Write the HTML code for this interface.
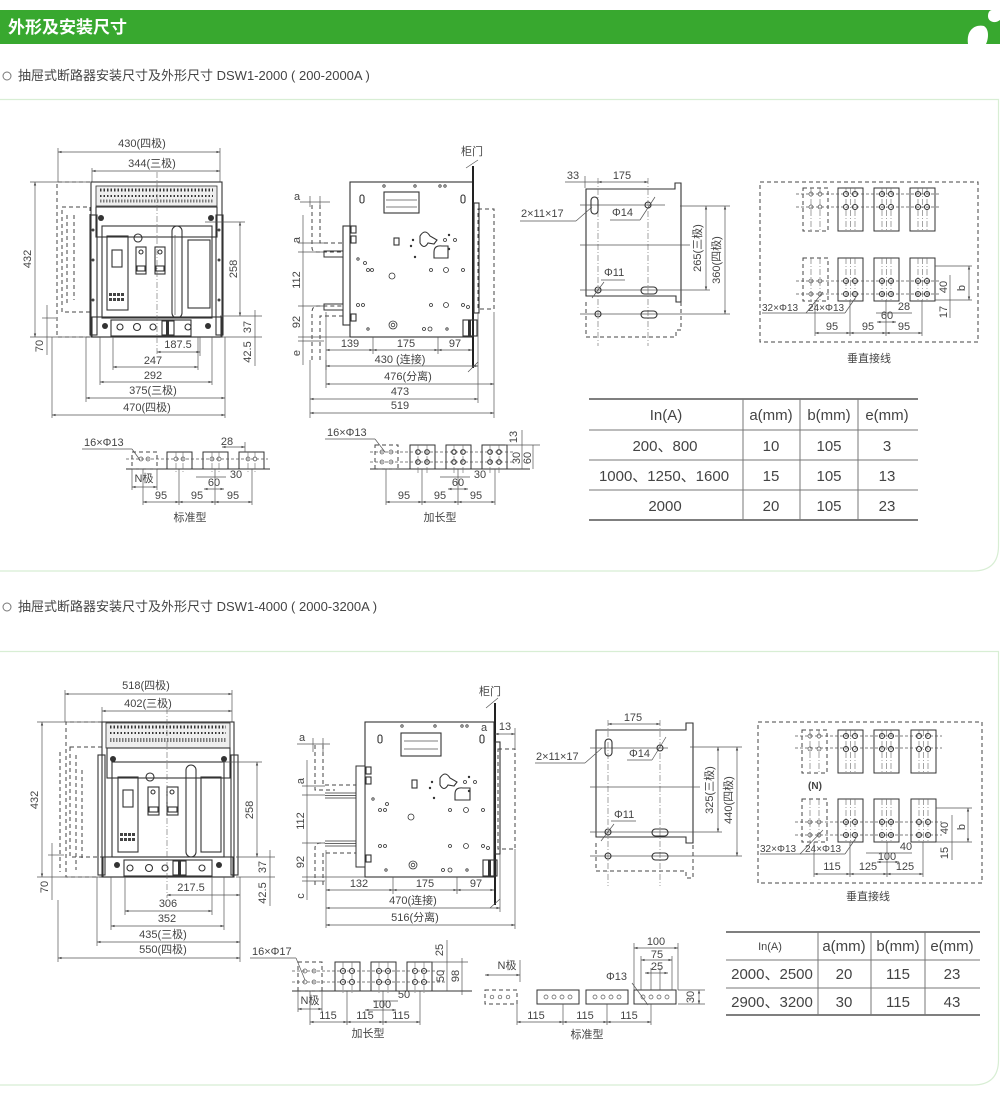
<!DOCTYPE html>
<html><head><meta charset="utf-8"><style>
html,body{margin:0;padding:0;background:#fff;}
body{width:1000px;height:1105px;position:relative;overflow:hidden;font-family:"Liberation Sans","Noto Sans CJK SC",sans-serif;}
svg{position:absolute;left:0;top:0;}
.t{font-family:"Liberation Sans","Noto Sans CJK SC",sans-serif;font-size:11px;fill:#444;text-anchor:middle;}
.tl{font-family:"Liberation Sans","Noto Sans CJK SC",sans-serif;font-size:11px;fill:#444;}
.d{stroke:#555;stroke-width:.7;fill:none;}
.dm{stroke:#555;stroke-width:.7;fill:none;marker-start:url(#ar);marker-end:url(#ar);}
.o{stroke:#333;stroke-width:1.1;fill:none;}
.ds{stroke:#444;stroke-width:1;fill:none;stroke-dasharray:4 3;}
.c{stroke:#666;stroke-width:.6;fill:none;stroke-dasharray:6 2 1 2;}
.tb{font-family:"Liberation Sans","Noto Sans CJK SC",sans-serif;font-size:15px;fill:#444;text-anchor:middle;}
</style></head><body>
<svg width="1000" height="1105" viewBox="0 0 1000 1105" xmlns="http://www.w3.org/2000/svg">
<defs>
<marker id="ar" viewBox="0 0 6 6" refX="6" refY="3" markerWidth="5" markerHeight="5" orient="auto-start-reverse"><path d="M0,1 L6,3 L0,5z" fill="#444"/></marker>
<symbol id="bA" overflow="visible"><rect x="0" y="0" width="25" height="43" fill="#fff" stroke="#333" stroke-width="1"/><line x1="8" y1="0" x2="8" y2="43" class="c"/><line x1="17" y1="0" x2="17" y2="43" class="c"/><line x1="12.5" y1="0" x2="12.5" y2="43" class="c"/><circle cx="8" cy="6" r="2.5" class="o"/><circle cx="17" cy="6" r="2.5" class="o"/><circle cx="8" cy="19" r="2.5" class="o"/><circle cx="17" cy="19" r="2.5" class="o"/></symbol>
<symbol id="bB" overflow="visible"><rect x="0" y="0" width="25" height="43" fill="#fff" stroke="#333" stroke-width="1"/><line x1="8" y1="0" x2="8" y2="43" class="c"/><line x1="17" y1="0" x2="17" y2="43" class="c"/><line x1="12.5" y1="0" x2="12.5" y2="43" class="c"/><circle cx="8" cy="23" r="2.5" class="o"/><circle cx="17" cy="23" r="2.5" class="o"/><circle cx="8" cy="36" r="2.5" class="o"/><circle cx="17" cy="36" r="2.5" class="o"/></symbol>
<symbol id="bAd" overflow="visible"><rect x="0" y="0" width="25" height="43" class="ds"/><line x1="8" y1="0" x2="8" y2="43" class="c"/><line x1="17" y1="0" x2="17" y2="43" class="c"/><circle cx="8" cy="6" r="2" class="d"/><circle cx="17" cy="6" r="2" class="d"/><circle cx="8" cy="19" r="2" class="d"/><circle cx="17" cy="19" r="2" class="d"/></symbol>
<symbol id="bBd" overflow="visible"><rect x="0" y="0" width="25" height="43" class="ds"/><line x1="8" y1="0" x2="8" y2="43" class="c"/><line x1="17" y1="0" x2="17" y2="43" class="c"/><circle cx="8" cy="23" r="2" class="d"/><circle cx="17" cy="23" r="2" class="d"/><circle cx="8" cy="36" r="2" class="d"/><circle cx="17" cy="36" r="2" class="d"/></symbol>
<symbol id="s1" overflow="visible"><rect x="0" y="0" width="25" height="17" fill="#fff" stroke="#333"/><circle cx="9" cy="7" r="2" class="d"/><circle cx="16" cy="7" r="2" class="d"/><line x1="9" y1="0" x2="9" y2="20" class="c"/><line x1="16" y1="0" x2="16" y2="20" class="c"/></symbol>
<symbol id="s2" overflow="visible"><rect x="0" y="0" width="25" height="24" fill="#fff" stroke="#333"/><circle cx="8" cy="7" r="2.3" class="o"/><circle cx="17" cy="7" r="2.3" class="o"/><circle cx="8" cy="17" r="2.3" class="o"/><circle cx="17" cy="17" r="2.3" class="o"/><line x1="8" y1="0" x2="8" y2="28" class="c"/><line x1="17" y1="0" x2="17" y2="28" class="c"/></symbol>
<symbol id="s3" overflow="visible"><rect x="0" y="0" width="25" height="29" fill="#fff" stroke="#333"/><circle cx="8" cy="9" r="2.5" class="o"/><circle cx="17" cy="9" r="2.5" class="o"/><circle cx="8" cy="20" r="2.5" class="o"/><circle cx="17" cy="20" r="2.5" class="o"/><line x1="8" y1="0" x2="8" y2="32" class="c"/><line x1="17" y1="0" x2="17" y2="32" class="c"/></symbol>
<symbol id="s4" overflow="visible"><rect x="0" y="0" width="42" height="14" fill="#fff" stroke="#333"/><circle cx="9" cy="7" r="2" class="d"/><circle cx="17" cy="7" r="2" class="d"/><circle cx="25" cy="7" r="2" class="d"/><circle cx="33" cy="7" r="2" class="d"/></symbol>
</defs>

<!-- header -->
<rect x="0" y="10" width="1000" height="34" fill="#38a82f"/>
<path d="M968 44 C966 30 975 24 984 26 C990 30 988 40 986 44 Z" fill="#fff"/>
<path d="M1000 10 L1000 20 C995 24 988 22 988 16 C988 12 990 10 992 10 Z" fill="#fff"/>
<text x="8" y="33" style="font-family:'Liberation Sans','Noto Sans CJK SC',sans-serif;font-size:17px;font-weight:bold;fill:#fff">外形及安装尺寸</text>

<!-- section labels -->
<circle cx="7" cy="76" r="4" fill="none" stroke="#777"/>
<text x="18" y="80" style="font-family:'Liberation Sans','Noto Sans CJK SC',sans-serif;font-size:13px;fill:#444">抽屉式断路器安装尺寸及外形尺寸 DSW1-2000 ( 200-2000A )</text>
<circle cx="7" cy="607" r="4" fill="none" stroke="#777"/>
<text x="18" y="611" style="font-family:'Liberation Sans','Noto Sans CJK SC',sans-serif;font-size:13px;fill:#444">抽屉式断路器安装尺寸及外形尺寸 DSW1-4000 ( 2000-3200A )</text>

<!-- panels -->
<path d="M0 99.5 H998.5 V546 Q998.5 571 973 571 H0" fill="none" stroke="#d8eed4" stroke-width="1.2"/>
<path d="M0 651.5 H998.5 V1060 Q998.5 1085 973 1085 H0" fill="none" stroke="#d8eed4" stroke-width="1.2"/>

<!-- ================= SECTION 1 FRONT ================= -->
<g>
<text class="t" x="142" y="147">430(四极)</text>
<line class="dm" x1="58" y1="152" x2="220" y2="152"/>
<text class="t" x="152" y="167">344(三极)</text>
<line class="dm" x1="92" y1="171" x2="220" y2="171"/>
<line class="d" x1="58" y1="148" x2="58" y2="182"/><line class="d" x1="220" y1="148" x2="220" y2="182"/><line class="d" x1="92" y1="168" x2="92" y2="182"/>
<path class="ds" d="M90 182 H57 V337 H90"/>
<rect class="ds" x="62" y="207" width="28" height="105"/>
<path class="ds" d="M67 215 V305 M74 215 V300"/>
<rect class="o" x="91" y="182" width="131" height="155"/>
<rect x="96" y="186" width="121" height="20" fill="#eee" stroke="#333" stroke-width=".8"/>
<line x1="100" y1="190" x2="213" y2="190" stroke="#333" stroke-width="3" stroke-dasharray="1.5 2"/>
<line x1="100" y1="196" x2="213" y2="196" stroke="#333" stroke-width="2" stroke-dasharray="1.5 2"/>
<line x1="100" y1="201" x2="213" y2="201" stroke="#777" stroke-width="3" stroke-dasharray="1.5 1.5"/>
<rect class="o" x="96" y="207" width="121" height="30"/>
<circle cx="101" cy="218" r="3" fill="#333"/><circle cx="211" cy="218" r="3" fill="#333"/>
<rect class="o" x="102" y="226" width="110" height="92"/>
<rect class="o" x="107" y="236" width="21" height="74"/>
<rect class="o" x="112" y="250" width="10" height="17"/>
<g fill="#444"><rect x="109" y="293" width="3" height="3"/><rect x="113" y="293" width="3" height="3"/><rect x="117" y="293" width="3" height="3"/><rect x="121" y="293" width="3" height="3"/><rect x="109" y="298" width="3" height="3"/><rect x="113" y="298" width="3" height="3"/><rect x="117" y="298" width="3" height="3"/><rect x="121" y="298" width="3" height="3"/></g>
<circle cx="138" cy="238" r="4" class="o"/>
<rect class="o" x="136" y="247" width="10" height="27"/><circle cx="141" cy="252" r="2" class="o"/><rect class="o" x="137" y="266" width="8" height="5"/>
<rect class="o" x="155" y="247" width="10" height="27"/><circle cx="160" cy="252" r="2" class="o"/><rect class="o" x="156" y="266" width="8" height="5"/>
<rect class="o" x="172" y="226" width="10" height="92" rx="5"/><line class="d" x1="175" y1="235" x2="175" y2="315"/>
<rect class="o" x="188" y="240" width="22" height="68"/>
<rect class="o" x="92" y="317" width="129" height="20"/>
<rect class="o" x="111" y="320" width="80" height="16"/>
<circle cx="120" cy="327" r="3" class="o"/><circle cx="137" cy="327" r="3.5" class="o"/><circle cx="153" cy="327" r="3" class="o"/><rect class="o" x="162" y="321" width="12" height="14"/><rect x="166" y="320" width="3" height="17" fill="#333"/><circle cx="188" cy="327" r="3" class="o"/>
<circle cx="105" cy="326" r="3" fill="#333"/><circle cx="208" cy="326" r="3" fill="#333"/>
<rect class="o" x="90" y="215" width="7" height="120"/><rect class="o" x="216" y="215" width="7" height="120"/>
<g fill="#444"><circle cx="93" cy="230" r="1.5"/><circle cx="93" cy="260" r="1.5"/><circle cx="93" cy="300" r="1.5"/><circle cx="219" cy="230" r="1.5"/><circle cx="219" cy="260" r="1.5"/><circle cx="219" cy="300" r="1.5"/></g>
<line class="c" x1="157" y1="172" x2="157" y2="356"/>
<!-- left dims -->
<line class="d" x1="30" y1="182" x2="90" y2="182"/>
<line class="dm" x1="35" y1="182" x2="35" y2="337"/>
<text class="t" transform="translate(31,259) rotate(-90)">432</text>
<line class="d" x1="30" y1="337" x2="90" y2="337"/>
<line class="d" x1="42" y1="318" x2="56" y2="318"/>
<line class="d" x1="47" y1="305" x2="47" y2="355"/>
<text class="t" transform="translate(43,346) rotate(-90)">70</text>
<!-- right dims -->
<line class="d" x1="205" y1="222" x2="245" y2="222"/>
<line class="dm" x1="240" y1="222" x2="240" y2="316"/>
<text class="t" transform="translate(237,269) rotate(-90)">258</text>
<line class="d" x1="220" y1="316" x2="262" y2="316"/><line class="d" x1="220" y1="337" x2="262" y2="337"/>
<line class="d" x1="255" y1="310" x2="255" y2="366"/>
<text class="t" transform="translate(251,327) rotate(-90)">37</text>
<text class="t" transform="translate(251,352) rotate(-90)">42.5</text>
<!-- bottom dims -->
<line class="d" x1="200" y1="337" x2="200" y2="356"/>
<text class="t" x="178" y="348">187.5</text><line class="dm" x1="157" y1="352" x2="200" y2="352"/>
<line class="d" x1="113" y1="337" x2="113" y2="370"/><line class="d" x1="198" y1="337" x2="198" y2="370"/>
<text class="t" x="153" y="364">247</text><line class="dm" x1="113" y1="367" x2="198" y2="367"/>
<line class="d" x1="100" y1="337" x2="100" y2="385"/><line class="d" x1="212" y1="337" x2="212" y2="385"/>
<text class="t" x="153" y="379">292</text><line class="dm" x1="100" y1="382" x2="212" y2="382"/>
<line class="d" x1="86" y1="337" x2="86" y2="402"/><line class="d" x1="225" y1="337" x2="225" y2="418"/>
<text class="t" x="153" y="394">375(三极)</text><line class="dm" x1="86" y1="398" x2="225" y2="398"/>
<line class="d" x1="52" y1="337" x2="52" y2="418"/>
<text class="t" x="147" y="411">470(四极)</text><line class="dm" x1="52" y1="415" x2="225" y2="415"/>
</g>

<!-- ================= SECTION 1 SIDE ================= -->
<g>
<text class="t" x="472" y="155">柜门</text>
<line class="d" x1="466" y1="168" x2="478" y2="160"/>
<rect class="o" x="350" y="182" width="123" height="155"/>
<line x1="473" y1="166" x2="473" y2="368" stroke="#222" stroke-width="2"/>
<line class="d" x1="468" y1="372" x2="478" y2="362"/>
<rect class="ds" x="478" y="209" width="16" height="100"/>
<rect class="o" x="474" y="203" width="5" height="110"/>
<rect class="o" x="343" y="226" width="7" height="99"/>
<rect class="o" x="351" y="226" width="5" height="7"/><rect class="o" x="351" y="236" width="5" height="7"/><rect class="o" x="351" y="314" width="5" height="7"/>
<rect class="o" x="384" y="192" width="35" height="21"/><line class="d" x1="386" y1="200" x2="417" y2="200"/><line class="d" x1="386" y1="207" x2="417" y2="207"/>
<rect class="o" x="360" y="195" width="4" height="8" rx="2"/><rect class="o" x="461" y="195" width="4" height="8" rx="2"/>
<path class="o" d="M420 236 Q425 228 430 236 L437 240 L434 244 L428 243 Q424 250 420 243 Z"/>
<path class="o" d="M434 258 V252 Q434 245 442 246 H448 V258 Z"/>
<rect class="o" x="394" y="238" width="5" height="7"/>
<g fill="none" stroke="#333" stroke-width=".8"><circle cx="384" cy="186" r="1.2"/><circle cx="415" cy="186" r="1.2"/><circle cx="440" cy="186" r="1.2"/><circle cx="445" cy="186" r="1.2"/><circle cx="358" cy="259" r="1.2"/><circle cx="368" cy="270" r="1.5"/><circle cx="372" cy="270" r="1.5"/><circle cx="365" cy="263" r="1.5"/><circle cx="392" cy="276" r="3"/><circle cx="431" cy="270" r="1.5"/><circle cx="446" cy="270" r="2.5"/><circle cx="463" cy="270" r="1.5"/><circle cx="358" cy="305" r="1.5"/><circle cx="363" cy="305" r="1.5"/><circle cx="431" cy="305" r="1.5"/><circle cx="446" cy="305" r="2.5"/><circle cx="463" cy="305" r="1.5"/><circle cx="468" cy="307" r="1.5"/><circle cx="393" cy="325" r="4"/><circle cx="393" cy="325" r="1.8"/><circle cx="368" cy="329" r="1.2"/><circle cx="424" cy="329" r="1.5"/><circle cx="430" cy="329" r="2"/><circle cx="447" cy="329" r="1.2"/><circle cx="445" cy="240" r="1.5"/><circle cx="455" cy="240" r="1.5"/></g>
<g fill="#333"><circle cx="413" cy="240" r="1.2"/><circle cx="411" cy="246" r="1.2"/><circle cx="449" cy="235" r="1.2"/><circle cx="449" cy="249" r="1.2"/><circle cx="415" cy="257" r="1.2"/></g>
<rect class="o" x="463" y="320" width="14" height="16"/><rect x="468" y="320" width="3" height="16" fill="#333"/>
<rect x="324" y="251" width="19" height="6" fill="#fff" stroke="#333"/>
<rect x="324" y="304" width="19" height="6" fill="#fff" stroke="#333"/>
<path class="ds" d="M312 205 V248 Q312 252 318 252 H343"/><path class="ds" d="M320 205 V243 H343"/>
<path class="ds" d="M312 360 V312 Q312 306 318 306 H343"/><path class="ds" d="M320 360 V316 H343"/>
<text class="t" x="297" y="200">a</text>
<line class="d" x1="300" y1="202" x2="330" y2="202"/><line class="d" x1="310" y1="196" x2="310" y2="207"/><line class="d" x1="320" y1="196" x2="320" y2="207"/>
<line class="d" x1="303" y1="215" x2="303" y2="365"/>
<line class="d" x1="298" y1="243" x2="324" y2="243"/><line class="d" x1="298" y1="252" x2="324" y2="252"/><line class="d" x1="298" y1="306" x2="324" y2="306"/><line class="d" x1="298" y1="337" x2="350" y2="337"/><line class="d" x1="298" y1="341" x2="324" y2="341"/>
<text class="t" transform="translate(300,240) rotate(-90)">a</text>
<text class="t" transform="translate(300,280) rotate(-90)">112</text>
<text class="t" transform="translate(300,322) rotate(-90)">92</text>
<text class="t" transform="translate(300,353) rotate(-90)">e</text>
<line class="d" x1="326" y1="312" x2="326" y2="370"/><line class="d" x1="373" y1="337" x2="373" y2="354"/><line class="d" x1="438" y1="337" x2="438" y2="354"/>
<text class="t" x="350" y="347">139</text><line class="dm" x1="326" y1="350" x2="373" y2="350"/>
<text class="t" x="406" y="347">175</text><line class="dm" x1="373" y1="350" x2="438" y2="350"/>
<text class="t" x="455" y="347">97</text><line class="dm" x1="438" y1="350" x2="472" y2="350"/>
<text class="t" x="400" y="363">430 (连接)</text><line class="dm" x1="326" y1="366" x2="478" y2="366"/>
<line class="d" x1="478" y1="312" x2="478" y2="403"/><line class="d" x1="494" y1="312" x2="494" y2="418"/><line class="d" x1="326" y1="360" x2="326" y2="388"/><line class="d" x1="310" y1="360" x2="310" y2="418"/>
<text class="t" x="408" y="380">476(分离)</text><line class="dm" x1="326" y1="384" x2="494" y2="384"/>
<text class="t" x="400" y="395">473</text><line class="dm" x1="310" y1="399" x2="478" y2="399"/>
<text class="t" x="400" y="409">519</text><line class="dm" x1="310" y1="413" x2="494" y2="413"/>
</g>

<!-- ================= SECTION 1 bottom parts ================= -->
<g>
<text class="tl" x="84" y="446">16×Φ13</text>
<line class="d" x1="82" y1="449" x2="132" y2="449"/><line class="d" x1="132" y1="449" x2="140" y2="460"/>
<line class="o" x1="126" y1="469" x2="270" y2="469"/>
<rect class="ds" x="132" y="452" width="25" height="17"/>
<circle cx="141" cy="459" r="2" class="d"/><circle cx="148" cy="459" r="2" class="d"/>
<use href="#s1" x="167" y="452"/><use href="#s1" x="203" y="452"/><use href="#s1" x="239" y="452"/>
<line class="d" x1="126" y1="459" x2="268" y2="459" stroke-dasharray="3 2"/>
<text class="t" x="227" y="445">28</text><line class="dm" x1="222" y1="447" x2="245" y2="447"/><line class="d" x1="245" y1="442" x2="245" y2="452"/>
<text class="t" x="144" y="482">N极</text><line class="d" x1="132" y1="469" x2="132" y2="490"/><line class="d" x1="157" y1="469" x2="157" y2="490"/><line class="dm" x1="132" y1="487" x2="157" y2="487"/>
<text class="t" x="236" y="478">30</text><line class="d" x1="196" y1="477" x2="226" y2="477"/>
<text class="t" x="214" y="486">60</text><line class="dm" x1="204" y1="489" x2="224" y2="489"/>
<line class="d" x1="143" y1="469" x2="143" y2="505"/><line class="d" x1="179" y1="469" x2="179" y2="505"/><line class="d" x1="215" y1="469" x2="215" y2="505"/><line class="d" x1="252" y1="469" x2="252" y2="505"/>
<text class="t" x="161" y="499">95</text><line class="dm" x1="143" y1="502" x2="179" y2="502"/>
<text class="t" x="197" y="499">95</text><line class="dm" x1="179" y1="502" x2="215" y2="502"/>
<text class="t" x="233" y="499">95</text><line class="dm" x1="215" y1="502" x2="252" y2="502"/>
<text class="t" x="190" y="521">标准型</text>

<text class="tl" x="327" y="436">16×Φ13</text>
<line class="d" x1="325" y1="439" x2="375" y2="439"/><line class="d" x1="375" y1="439" x2="385" y2="452"/>
<line class="o" x1="370" y1="469" x2="530" y2="469"/>
<rect class="ds" x="375" y="445" width="23" height="24"/>
<circle cx="382" cy="452" r="2" class="d"/><circle cx="391" cy="452" r="2" class="d"/><circle cx="382" cy="462" r="2" class="d"/><circle cx="391" cy="462" r="2" class="d"/>
<use href="#s2" x="410" y="445"/><use href="#s2" x="446" y="445"/><use href="#s2" x="482" y="445"/>
<line class="d" x1="370" y1="452" x2="515" y2="452" stroke-dasharray="3 2"/><line class="d" x1="370" y1="462" x2="515" y2="462" stroke-dasharray="3 2"/>
<line class="d" x1="505" y1="445" x2="540" y2="445"/>
<line class="d" x1="522" y1="430" x2="522" y2="469"/><line class="d" x1="533" y1="445" x2="533" y2="469"/>
<text class="t" transform="translate(517,437) rotate(-90)">13</text>
<text class="t" transform="translate(520,458) rotate(-90)">30</text>
<text class="t" transform="translate(531,458) rotate(-90)">60</text>
<text class="t" x="480" y="478">30</text><line class="d" x1="440" y1="477" x2="470" y2="477"/>
<text class="t" x="458" y="486">60</text><line class="dm" x1="448" y1="489" x2="468" y2="489"/>
<line class="d" x1="386" y1="469" x2="386" y2="505"/><line class="d" x1="422" y1="469" x2="422" y2="505"/><line class="d" x1="458" y1="469" x2="458" y2="505"/><line class="d" x1="495" y1="469" x2="495" y2="505"/>
<text class="t" x="404" y="499">95</text><line class="dm" x1="386" y1="502" x2="422" y2="502"/>
<text class="t" x="440" y="499">95</text><line class="dm" x1="422" y1="502" x2="458" y2="502"/>
<text class="t" x="476" y="499">95</text><line class="dm" x1="458" y1="502" x2="495" y2="502"/>
<text class="t" x="440" y="521">加长型</text>
</g>

<!-- ================= SECTION 1 plate ================= -->
<g>
<path class="o" d="M586 189 H675 V183 H681 V302 H676 V296 H586 Z"/>
<path class="ds" d="M586 302 V337 H676 V330 H681 V302"/>
<line class="c" x1="598" y1="178" x2="598" y2="346"/><line class="c" x1="648" y1="178" x2="648" y2="346"/>
<line class="d" x1="580" y1="205" x2="665" y2="205"/><line class="d" x1="580" y1="245" x2="690" y2="245"/><line class="d" x1="580" y1="290" x2="710" y2="290"/><line class="d" x1="580" y1="314" x2="730" y2="314"/>
<line class="d" x1="680" y1="206" x2="730" y2="206"/>
<rect class="o" x="591" y="197" width="7" height="17" rx="3.5"/>
<circle cx="648" cy="205" r="3" class="o"/>
<circle cx="598" cy="290" r="3" class="o"/>
<rect class="o" x="641" y="287" width="16" height="7" rx="3.5"/>
<circle cx="598" cy="314" r="3" class="o"/>
<rect class="o" x="641" y="311" width="16" height="7" rx="3.5"/>
<text class="t" x="573" y="179">33</text><text class="t" x="622" y="179">175</text>
<line class="d" x1="565" y1="182" x2="598" y2="182"/><line class="dm" x1="598" y1="182" x2="648" y2="182"/><line class="d" x1="585" y1="176" x2="585" y2="188"/>
<text class="tl" x="521" y="217">2×11×17</text><line class="d" x1="520" y1="221" x2="576" y2="221"/><line class="d" x1="576" y1="221" x2="592" y2="207"/>
<text class="tl" x="612" y="216">Φ14</text><line class="d" x1="610" y1="220" x2="640" y2="220"/><line class="d" x1="640" y1="220" x2="655" y2="197"/>
<text class="tl" x="604" y="276">Φ11</text><line class="d" x1="601" y1="280" x2="625" y2="280"/><line class="d" x1="592" y1="298" x2="604" y2="282"/>
<line class="dm" x1="706" y1="206" x2="706" y2="290"/>
<text class="t" transform="translate(701,248) rotate(-90)">265(三极)</text>
<line class="dm" x1="725" y1="206" x2="725" y2="314"/>
<text class="t" transform="translate(720,260) rotate(-90)">360(四极)</text>
</g>

<!-- ================= SECTION 1 vertical wiring ================= -->
<g>
<rect class="ds" x="760" y="182" width="218" height="160"/>
<use href="#bAd" x="803" y="188"/><use href="#bA" x="838" y="188"/><use href="#bA" x="874" y="188"/><use href="#bA" x="910" y="188"/>
<line class="d" x1="796" y1="194" x2="940" y2="194" stroke-dasharray="3 2"/><line class="d" x1="796" y1="207" x2="940" y2="207" stroke-dasharray="3 2"/>
<use href="#bBd" x="803" y="258"/><use href="#bB" x="838" y="258"/><use href="#bB" x="874" y="258"/><use href="#bB" x="910" y="258"/>
<line class="d" x1="796" y1="281" x2="940" y2="281" stroke-dasharray="3 2"/><line class="d" x1="796" y1="294" x2="940" y2="294" stroke-dasharray="3 2"/>
<line class="d" x1="935" y1="266" x2="972" y2="266"/><line class="d" x1="935" y1="300" x2="972" y2="300"/>
<line class="dm" x1="969" y1="266" x2="969" y2="300"/><text class="t" transform="translate(965,288) rotate(-90)">b</text>
<line class="d" x1="950" y1="275" x2="950" y2="318"/><text class="t" transform="translate(947,287) rotate(-90)">40</text>
<text class="t" transform="translate(947,312) rotate(-90)">17</text>
<text class="tl" x="762" y="311" style="font-size:10px">32×Φ13</text><text class="tl" x="808" y="311" style="font-size:10px">24×Φ13</text>
<line class="d" x1="762" y1="313" x2="845" y2="313"/><line class="d" x1="806" y1="313" x2="823" y2="292"/><line class="d" x1="845" y1="313" x2="858" y2="294"/>
<text class="t" x="904" y="310">28</text><line class="d" x1="876" y1="313" x2="912" y2="313"/>
<text class="t" x="887" y="319">60</text><line class="dm" x1="877" y1="322" x2="896" y2="322"/>
<line class="d" x1="815" y1="300" x2="815" y2="336"/><line class="d" x1="850" y1="300" x2="850" y2="336"/><line class="d" x1="886" y1="300" x2="886" y2="336"/><line class="d" x1="922" y1="300" x2="922" y2="336"/>
<text class="t" x="832" y="330">95</text><line class="dm" x1="815" y1="333" x2="850" y2="333"/>
<text class="t" x="868" y="330">95</text><line class="dm" x1="850" y1="333" x2="886" y2="333"/>
<text class="t" x="904" y="330">95</text><line class="dm" x1="886" y1="333" x2="922" y2="333"/>
<text class="t" x="869" y="362">垂直接线</text>
</g>

<!-- ================= TABLE 1 ================= -->
<g>
<line x1="589" y1="399" x2="918" y2="399" stroke="#555" stroke-width="1.5"/>
<line x1="589" y1="430" x2="918" y2="430" stroke="#777" stroke-width="1"/>
<line x1="589" y1="460" x2="918" y2="460" stroke="#777" stroke-width="1"/>
<line x1="589" y1="490" x2="918" y2="490" stroke="#777" stroke-width="1"/>
<line x1="589" y1="520" x2="918" y2="520" stroke="#555" stroke-width="1.5"/>
<line x1="743" y1="399" x2="743" y2="520" stroke="#777"/><line x1="800" y1="399" x2="800" y2="520" stroke="#777"/><line x1="858" y1="399" x2="858" y2="520" stroke="#777"/>
<text class="tb" x="666" y="420">In(A)</text><text class="tb" x="771" y="420">a(mm)</text><text class="tb" x="829" y="420">b(mm)</text><text class="tb" x="887" y="420">e(mm)</text>
<text class="tb" x="665" y="451">200、800</text><text class="tb" x="771" y="451">10</text><text class="tb" x="829" y="451">105</text><text class="tb" x="887" y="451">3</text>
<text class="tb" x="664" y="481">1000、1250、1600</text><text class="tb" x="771" y="481">15</text><text class="tb" x="829" y="481">105</text><text class="tb" x="887" y="481">13</text>
<text class="tb" x="665" y="511">2000</text><text class="tb" x="771" y="511">20</text><text class="tb" x="829" y="511">105</text><text class="tb" x="887" y="511">23</text>
</g>

<!-- ================= SECTION 2 FRONT ================= -->
<g>
<text class="t" x="146" y="689">518(四极)</text>
<line class="dm" x1="65" y1="694" x2="232" y2="694"/>
<text class="t" x="148" y="707">402(三极)</text>
<line class="dm" x1="102" y1="711" x2="232" y2="711"/>
<line class="d" x1="65" y1="690" x2="65" y2="722"/><line class="d" x1="232" y1="690" x2="232" y2="722"/><line class="d" x1="102" y1="707" x2="102" y2="722"/>
<path class="ds" d="M102 722 H66 V877 H102"/>
<rect class="ds" x="70" y="747" width="32" height="110"/>
<path class="ds" d="M60 752 V872 M76 755 V870 M82 770 V860"/>
<rect class="o" x="102" y="722" width="132" height="155"/>
<rect x="106" y="723" width="124" height="25" fill="#eee" stroke="#333" stroke-width=".8"/>
<line x1="110" y1="727" x2="226" y2="727" stroke="#333" stroke-width="3" stroke-dasharray="1.5 2"/>
<line x1="110" y1="733" x2="226" y2="733" stroke="#333" stroke-width="2" stroke-dasharray="1.5 2"/>
<line x1="110" y1="740" x2="226" y2="740" stroke="#777" stroke-width="4" stroke-dasharray="1.5 1.5"/>
<rect class="o" x="107" y="748" width="123" height="30"/>
<circle cx="113" cy="759" r="3" fill="#333"/><circle cx="224" cy="759" r="3" fill="#333"/>
<rect class="o" x="112" y="762" width="112" height="95"/>
<rect class="o" x="118" y="777" width="20" height="75"/>
<rect class="o" x="123" y="790" width="10" height="17"/>
<g fill="#444"><rect x="120" y="833" width="3" height="3"/><rect x="124" y="833" width="3" height="3"/><rect x="128" y="833" width="3" height="3"/><rect x="132" y="833" width="3" height="3"/><rect x="120" y="838" width="3" height="3"/><rect x="124" y="838" width="3" height="3"/><rect x="128" y="838" width="3" height="3"/><rect x="132" y="838" width="3" height="3"/></g>
<circle cx="150" cy="777" r="4" class="o"/>
<rect class="o" x="148" y="787" width="11" height="28"/><circle cx="153" cy="792" r="2" class="o"/><rect class="o" x="149" y="807" width="9" height="5"/>
<rect class="o" x="167" y="787" width="11" height="28"/><circle cx="172" cy="792" r="2" class="o"/><rect class="o" x="168" y="807" width="9" height="5"/>
<rect class="o" x="186" y="765" width="10" height="92" rx="5"/>
<rect class="o" x="201" y="777" width="20" height="75"/>
<rect class="o" x="103" y="857" width="130" height="20"/>
<rect class="o" x="124" y="860" width="88" height="16"/>
<circle cx="130" cy="868" r="3" class="o"/><circle cx="149" cy="868" r="3.5" class="o"/><circle cx="165" cy="868" r="3" class="o"/><rect class="o" x="173" y="861" width="13" height="14"/><rect x="178" y="860" width="3" height="17" fill="#333"/><circle cx="202" cy="868" r="3" class="o"/>
<circle cx="117" cy="865" r="3" fill="#333"/><circle cx="219" cy="865" r="3" fill="#333"/>
<rect class="o" x="98" y="755" width="7" height="120"/><rect class="o" x="231" y="755" width="7" height="120"/>
<line class="c" x1="167" y1="708" x2="167" y2="898"/>
<line class="d" x1="37" y1="722" x2="100" y2="722"/>
<line class="dm" x1="42" y1="722" x2="42" y2="877"/>
<text class="t" transform="translate(38,800) rotate(-90)">432</text>
<line class="d" x1="37" y1="877" x2="100" y2="877"/>
<line class="d" x1="48" y1="855" x2="64" y2="855"/>
<line class="d" x1="52" y1="843" x2="52" y2="900"/>
<text class="t" transform="translate(48,887) rotate(-90)">70</text>
<line class="d" x1="222" y1="762" x2="262" y2="762"/>
<line class="dm" x1="257" y1="762" x2="257" y2="857"/>
<text class="t" transform="translate(253,810) rotate(-90)">258</text>
<line class="d" x1="236" y1="857" x2="275" y2="857"/><line class="d" x1="236" y1="877" x2="275" y2="877"/>
<line class="d" x1="270" y1="850" x2="270" y2="906"/>
<text class="t" transform="translate(266,867) rotate(-90)">37</text>
<text class="t" transform="translate(266,893) rotate(-90)">42.5</text>
<line class="d" x1="240" y1="877" x2="240" y2="962"/>
<text class="t" x="191" y="891">217.5</text><line class="dm" x1="167" y1="895" x2="240" y2="895"/>
<line class="d" x1="125" y1="877" x2="125" y2="915"/><line class="d" x1="212" y1="877" x2="212" y2="915"/>
<text class="t" x="168" y="907">306</text><line class="dm" x1="125" y1="911" x2="212" y2="911"/>
<line class="d" x1="111" y1="877" x2="111" y2="930"/><line class="d" x1="224" y1="877" x2="224" y2="930"/>
<text class="t" x="167" y="922">352</text><line class="dm" x1="111" y1="926" x2="224" y2="926"/>
<line class="d" x1="97" y1="877" x2="97" y2="946"/>
<text class="t" x="163" y="938">435(三极)</text><line class="dm" x1="97" y1="942" x2="240" y2="942"/>
<line class="d" x1="58" y1="900" x2="58" y2="962"/>
<text class="t" x="163" y="953">550(四极)</text><line class="dm" x1="58" y1="958" x2="240" y2="958"/>
</g>

<!-- ================= SECTION 2 SIDE ================= -->
<g>
<text class="t" x="490" y="695">柜门</text>
<line class="d" x1="486" y1="708" x2="498" y2="698"/>
<rect class="o" x="365" y="722" width="129" height="155"/>
<line x1="495" y1="703" x2="495" y2="905" stroke="#222" stroke-width="2"/>
<line class="d" x1="490" y1="908" x2="500" y2="899"/>
<rect class="ds" x="498" y="749" width="17" height="100"/>
<rect class="o" x="495" y="742" width="5" height="112"/>
<text class="t" x="505" y="730">13</text><line class="dm" x1="495" y1="734" x2="515" y2="734"/><line class="d" x1="515" y1="728" x2="515" y2="749"/>
<text class="t" x="484" y="731">a</text>
<rect x="356" y="766" width="9" height="101" fill="#fff" stroke="#333"/>
<rect class="o" x="366" y="767" width="5" height="7"/><rect class="o" x="366" y="777" width="5" height="7"/><rect class="o" x="366" y="855" width="5" height="7"/>
<rect class="o" x="401" y="733" width="40" height="23"/><line class="d" x1="404" y1="741" x2="438" y2="741"/><line class="d" x1="404" y1="749" x2="438" y2="749"/>
<rect class="o" x="378" y="735" width="4" height="8" rx="2"/><rect class="o" x="480" y="735" width="4" height="8" rx="2"/>
<path class="o" d="M440 778 Q445 770 450 778 L457 782 L454 786 L448 785 Q444 792 440 785 Z"/>
<path class="o" d="M455 800 V794 Q455 787 463 788 H470 V800 Z"/>
<rect class="o" x="412" y="780" width="5" height="8"/>
<g fill="none" stroke="#333" stroke-width=".8"><circle cx="402" cy="726" r="1.2"/><circle cx="435" cy="726" r="1.2"/><circle cx="462" cy="726" r="1.2"/><circle cx="467" cy="726" r="1.2"/><circle cx="373" cy="799" r="1.2"/><circle cx="380" cy="810" r="1.5"/><circle cx="385" cy="810" r="1.5"/><circle cx="387" cy="804" r="1.5"/><circle cx="411" cy="817" r="3"/><circle cx="450" cy="810" r="1.5"/><circle cx="466" cy="810" r="2.5"/><circle cx="483" cy="810" r="1.5"/><circle cx="380" cy="846" r="1.5"/><circle cx="385" cy="846" r="1.5"/><circle cx="450" cy="846" r="1.5"/><circle cx="466" cy="846" r="2.5"/><circle cx="483" cy="846" r="1.5"/><circle cx="488" cy="848" r="1.5"/><circle cx="413" cy="865" r="4"/><circle cx="413" cy="865" r="1.8"/><circle cx="386" cy="870" r="1.2"/><circle cx="443" cy="870" r="1.5"/><circle cx="450" cy="870" r="2"/><circle cx="467" cy="870" r="1.2"/><circle cx="465" cy="782" r="1.5"/><circle cx="475" cy="782" r="1.5"/></g>
<g fill="#333"><circle cx="432" cy="782" r="1.2"/><circle cx="430" cy="788" r="1.2"/><circle cx="469" cy="777" r="1.2"/><circle cx="469" cy="791" r="1.2"/><circle cx="434" cy="798" r="1.2"/></g>
<rect class="o" x="483" y="860" width="14" height="16"/><rect x="488" y="860" width="3" height="16" fill="#333"/>
<g stroke="#333" stroke-width=".8"><line x1="325" y1="793" x2="356" y2="793"/><line x1="325" y1="795.5" x2="356" y2="795.5"/><line x1="325" y1="798" x2="356" y2="798"/><line x1="325" y1="841" x2="356" y2="841"/><line x1="325" y1="843.5" x2="356" y2="843.5"/><line x1="325" y1="846" x2="356" y2="846"/></g>
<path class="ds" d="M315 745 V790 H335"/><path class="ds" d="M323 745 V785 H356"/>
<path class="ds" d="M315 885 V848 Q315 843 321 843 H325"/><path class="ds" d="M323 885 V853 H356"/>
<text class="t" x="302" y="741">a</text>
<line class="d" x1="297" y1="744" x2="330" y2="744"/><line class="d" x1="313" y1="738" x2="313" y2="752"/><line class="d" x1="323" y1="738" x2="323" y2="752"/>
<line class="d" x1="307" y1="760" x2="307" y2="900"/>
<line class="d" x1="302" y1="786" x2="325" y2="786"/><line class="d" x1="302" y1="795" x2="325" y2="795"/><line class="d" x1="302" y1="843" x2="325" y2="843"/><line class="d" x1="302" y1="877" x2="365" y2="877"/><line class="d" x1="302" y1="881" x2="325" y2="881"/>
<text class="t" transform="translate(304,781) rotate(-90)">a</text>
<text class="t" transform="translate(304,821) rotate(-90)">112</text>
<text class="t" transform="translate(304,862) rotate(-90)">92</text>
<text class="t" transform="translate(304,896) rotate(-90)">c</text>
<line class="d" x1="326" y1="850" x2="326" y2="928"/><line class="d" x1="393" y1="877" x2="393" y2="894"/><line class="d" x1="457" y1="877" x2="457" y2="894"/>
<text class="t" x="359" y="887">132</text><line class="dm" x1="326" y1="890" x2="393" y2="890"/>
<text class="t" x="425" y="887">175</text><line class="dm" x1="393" y1="890" x2="457" y2="890"/>
<text class="t" x="476" y="887">97</text><line class="dm" x1="457" y1="890" x2="494" y2="890"/>
<text class="t" x="413" y="904">470(连接)</text><line class="dm" x1="326" y1="908" x2="500" y2="908"/>
<line class="d" x1="500" y1="854" x2="500" y2="912"/><line class="d" x1="515" y1="849" x2="515" y2="929"/>
<text class="t" x="415" y="921">516(分离)</text><line class="dm" x1="326" y1="925" x2="515" y2="925"/>
</g>

<!-- ================= SECTION 2 bottom parts ================= -->
<g>
<text class="tl" x="252" y="955">16×Φ17</text>
<line class="d" x1="250" y1="958" x2="296" y2="958"/><line class="d" x1="296" y1="958" x2="305" y2="980"/>
<line class="o" x1="292" y1="991" x2="472" y2="991"/>
<rect class="ds" x="298" y="962" width="24" height="29"/>
<circle cx="305" cy="971" r="2" class="d"/><circle cx="314" cy="971" r="2" class="d"/><circle cx="305" cy="982" r="2" class="d"/><circle cx="314" cy="982" r="2" class="d"/>
<use href="#s3" x="335" y="962"/><use href="#s3" x="371" y="962"/><use href="#s3" x="407" y="962"/>
<line class="d" x1="292" y1="971" x2="445" y2="971" stroke-dasharray="3 2"/><line class="d" x1="292" y1="982" x2="445" y2="982" stroke-dasharray="3 2"/>
<line class="d" x1="430" y1="962" x2="468" y2="962"/>
<line class="d" x1="447" y1="940" x2="447" y2="991"/><line class="d" x1="462" y1="958" x2="462" y2="995"/>
<text class="t" transform="translate(443,950) rotate(-90)">25</text>
<text class="t" transform="translate(444,976) rotate(-90)">50</text>
<text class="t" transform="translate(459,976) rotate(-90)">98</text>
<text class="t" x="310" y="1004">N极</text><line class="d" x1="298" y1="991" x2="298" y2="1012"/><line class="d" x1="322" y1="991" x2="322" y2="1012"/><line class="dm" x1="298" y1="1009" x2="322" y2="1009"/>
<text class="t" x="404" y="998">50</text><line class="d" x1="373" y1="1001" x2="398" y2="1001"/>
<text class="t" x="382" y="1008">100</text><line class="dm" x1="365" y1="1010" x2="396" y2="1010"/>
<line class="d" x1="310" y1="991" x2="310" y2="1025"/><line class="d" x1="347" y1="991" x2="347" y2="1025"/><line class="d" x1="383" y1="991" x2="383" y2="1025"/><line class="d" x1="420" y1="991" x2="420" y2="1025"/>
<text class="t" x="328" y="1019">115</text><line class="dm" x1="310" y1="1022" x2="347" y2="1022"/>
<text class="t" x="365" y="1019">115</text><line class="dm" x1="347" y1="1022" x2="383" y2="1022"/>
<text class="t" x="401" y="1019">115</text><line class="dm" x1="383" y1="1022" x2="420" y2="1022"/>
<text class="t" x="368" y="1037">加长型</text>

<text class="t" x="507" y="969">N极</text>
<line class="dm" x1="485" y1="975" x2="520" y2="975"/><line class="d" x1="520" y1="960" x2="520" y2="982"/>
<rect class="ds" x="485" y="990" width="32" height="14"/>
<circle cx="492" cy="997" r="1.8" class="d"/><circle cx="500" cy="997" r="1.8" class="d"/><circle cx="508" cy="997" r="1.8" class="d"/>
<use href="#s4" x="537" y="990"/><use href="#s4" x="586" y="990"/><use href="#s4" x="634" y="990"/>
<text class="t" x="656" y="945">100</text><line class="dm" x1="634" y1="948" x2="678" y2="948"/>
<text class="t" x="657" y="958">75</text><line class="dm" x1="641" y1="960" x2="672" y2="960"/>
<text class="t" x="657" y="970">25</text><line class="dm" x1="645" y1="973" x2="668" y2="973"/>
<line class="d" x1="634" y1="943" x2="634" y2="990"/><line class="d" x1="678" y1="943" x2="678" y2="990"/><line class="d" x1="641" y1="956" x2="641" y2="990"/><line class="d" x1="672" y1="956" x2="672" y2="990"/><line class="d" x1="651" y1="968" x2="651" y2="990"/><line class="d" x1="660" y1="968" x2="660" y2="990"/>
<text class="tl" x="606" y="980">Φ13</text><line class="d" x1="632" y1="983" x2="648" y2="1005"/>
<line class="d" x1="678" y1="990" x2="705" y2="990"/><line class="d" x1="678" y1="1004" x2="705" y2="1004"/><line class="dm" x1="699" y1="990" x2="699" y2="1004"/>
<text class="t" transform="translate(694,997) rotate(-90)">30</text>
<line class="d" x1="517" y1="1004" x2="517" y2="1025"/><line class="d" x1="563" y1="1004" x2="563" y2="1025"/><line class="d" x1="607" y1="1004" x2="607" y2="1025"/><line class="d" x1="651" y1="1004" x2="651" y2="1025"/>
<text class="t" x="536" y="1019">115</text><line class="dm" x1="517" y1="1022" x2="563" y2="1022"/>
<text class="t" x="585" y="1019">115</text><line class="dm" x1="563" y1="1022" x2="607" y2="1022"/>
<text class="t" x="629" y="1019">115</text><line class="dm" x1="607" y1="1022" x2="651" y2="1022"/>
<text class="t" x="587" y="1038">标准型</text>
</g>

<!-- ================= SECTION 2 plate ================= -->
<g>
<path class="o" d="M596 730 H686 V723 H693 V843 H686 V837 H596 Z"/>
<path class="ds" d="M596 843 V871 H686 V878 H693 V843"/>
<line class="c" x1="608" y1="720" x2="608" y2="886"/><line class="c" x1="660" y1="720" x2="660" y2="886"/>
<line class="d" x1="590" y1="748" x2="668" y2="748"/><line class="d" x1="590" y1="787" x2="700" y2="787"/><line class="d" x1="590" y1="832" x2="722" y2="832"/><line class="d" x1="590" y1="856" x2="742" y2="856"/>
<line class="d" x1="690" y1="747" x2="742" y2="747"/>
<rect class="o" x="605" y="739" width="7" height="17" rx="3.5"/>
<circle cx="660" cy="748" r="3" class="o"/>
<circle cx="608" cy="832" r="3" class="o"/>
<rect class="o" x="652" y="829" width="16" height="7" rx="3.5"/>
<circle cx="608" cy="856" r="3" class="o"/>
<rect class="o" x="652" y="853" width="16" height="7" rx="3.5"/>
<text class="t" x="633" y="721">175</text><line class="dm" x1="608" y1="724" x2="660" y2="724"/>
<text class="tl" x="536" y="760">2×11×17</text><line class="d" x1="535" y1="763" x2="585" y2="763"/><line class="d" x1="585" y1="763" x2="602" y2="748"/>
<text class="tl" x="629" y="757">Φ14</text><line class="d" x1="627" y1="760" x2="652" y2="760"/><line class="d" x1="652" y1="760" x2="666" y2="737"/>
<text class="tl" x="614" y="818">Φ11</text><line class="d" x1="611" y1="821" x2="636" y2="821"/><line class="d" x1="601" y1="841" x2="614" y2="824"/>
<line class="dm" x1="718" y1="747" x2="718" y2="832"/>
<text class="t" transform="translate(713,790) rotate(-90)">325(三极)</text>
<line class="dm" x1="737" y1="747" x2="737" y2="856"/>
<text class="t" transform="translate(732,800) rotate(-90)">440(四极)</text>
</g>

<!-- ================= SECTION 2 vertical wiring ================= -->
<g>
<rect class="ds" x="758" y="722" width="224" height="161"/>
<use href="#bAd" x="802" y="730"/><use href="#bA" x="838" y="730"/><use href="#bA" x="874" y="730"/><use href="#bA" x="911" y="730"/>
<line class="d" x1="795" y1="736" x2="942" y2="736" stroke-dasharray="3 2"/><line class="d" x1="795" y1="748" x2="942" y2="748" stroke-dasharray="3 2"/>
<text class="t" x="815" y="789" style="font-weight:bold;font-size:10px">(N)</text>
<use href="#bBd" x="802" y="799"/><use href="#bB" x="838" y="799"/><use href="#bB" x="874" y="799"/><use href="#bB" x="911" y="799"/>
<line class="d" x1="795" y1="822" x2="942" y2="822" stroke-dasharray="3 2"/><line class="d" x1="795" y1="835" x2="942" y2="835" stroke-dasharray="3 2"/>
<line class="d" x1="936" y1="808" x2="972" y2="808"/><line class="d" x1="936" y1="842" x2="972" y2="842"/>
<line class="dm" x1="968" y1="808" x2="968" y2="842"/><text class="t" transform="translate(965,827) rotate(-90)">b</text>
<line class="d" x1="952" y1="815" x2="952" y2="860"/><text class="t" transform="translate(948,828) rotate(-90)">40</text>
<text class="t" transform="translate(948,853) rotate(-90)">15</text>
<text class="tl" x="760" y="852" style="font-size:10px">32×Φ13</text><text class="tl" x="805" y="852" style="font-size:10px">24×Φ13</text>
<line class="d" x1="760" y1="854" x2="845" y2="854"/><line class="d" x1="800" y1="854" x2="823" y2="830"/><line class="d" x1="845" y1="854" x2="858" y2="835"/>
<text class="t" x="906" y="850">40</text><line class="d" x1="866" y1="853" x2="912" y2="853"/>
<text class="t" x="887" y="860">100</text><line class="dm" x1="877" y1="862" x2="899" y2="862"/>
<line class="d" x1="814" y1="842" x2="814" y2="877"/><line class="d" x1="850" y1="842" x2="850" y2="877"/><line class="d" x1="887" y1="842" x2="887" y2="877"/><line class="d" x1="923" y1="842" x2="923" y2="877"/>
<text class="t" x="832" y="870">115</text><line class="dm" x1="814" y1="874" x2="850" y2="874"/>
<text class="t" x="868" y="870">125</text><line class="dm" x1="850" y1="874" x2="887" y2="874"/>
<text class="t" x="905" y="870">125</text><line class="dm" x1="887" y1="874" x2="923" y2="874"/>
<text class="t" x="868" y="900">垂直接线</text>
</g>

<!-- ================= TABLE 2 ================= -->
<g>
<line x1="726" y1="932" x2="980" y2="932" stroke="#555" stroke-width="1.5"/>
<line x1="726" y1="960" x2="980" y2="960" stroke="#777"/>
<line x1="726" y1="988" x2="980" y2="988" stroke="#777"/>
<line x1="726" y1="1015" x2="980" y2="1015" stroke="#555" stroke-width="1.5"/>
<line x1="818" y1="932" x2="818" y2="1015" stroke="#777"/><line x1="871" y1="932" x2="871" y2="1015" stroke="#777"/><line x1="925" y1="932" x2="925" y2="1015" stroke="#777"/>
<text class="t" x="770" y="950">In(A)</text><text class="tb" x="844" y="951">a(mm)</text><text class="tb" x="898" y="951">b(mm)</text><text class="tb" x="952" y="951">e(mm)</text>
<text class="tb" x="772" y="979">2000、2500</text><text class="tb" x="844" y="979">20</text><text class="tb" x="898" y="979">115</text><text class="tb" x="952" y="979">23</text>
<text class="tb" x="772" y="1007">2900、3200</text><text class="tb" x="844" y="1007">30</text><text class="tb" x="898" y="1007">115</text><text class="tb" x="952" y="1007">43</text>
</g>
</svg>
</body></html>
